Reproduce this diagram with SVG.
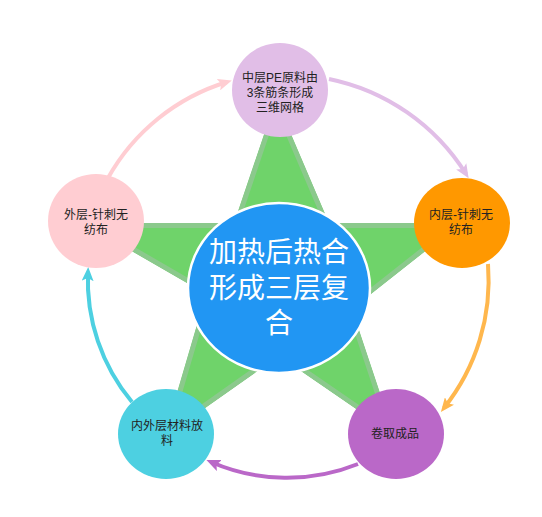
<svg xmlns="http://www.w3.org/2000/svg" width="542" height="517" viewBox="0 0 542 517">
<style>
.lbl{font-family:"Liberation Sans","Noto Sans CJK SC",sans-serif;font-size:12px;fill:#222;text-anchor:middle;dominant-baseline:central}
.big{font-family:"Liberation Sans","Noto Sans CJK SC",sans-serif;font-size:28px;fill:#ffffff;text-anchor:middle;dominant-baseline:central}
.arc{fill:none;stroke-width:4}
</style>
<defs>
<clipPath id="starclip"><polygon points="276,99 329,223 461,223 352,309 394,435 279,356 164,437 206,294 83,223 234,223"/></clipPath>
<marker id="mPink" viewBox="0 0 14 12" refX="9" refY="6" markerWidth="14" markerHeight="12" markerUnits="userSpaceOnUse" orient="auto"><path d="M0,0 L14,6 L0,12 L3,6 z" fill="#ffcdd2"/></marker>
<marker id="mLilac" viewBox="0 0 14 12" refX="9" refY="6" markerWidth="14" markerHeight="12" markerUnits="userSpaceOnUse" orient="auto"><path d="M0,0 L14,6 L0,12 L3,6 z" fill="#e1bee7"/></marker>
<marker id="mOrange" viewBox="0 0 14 12" refX="9" refY="6" markerWidth="14" markerHeight="12" markerUnits="userSpaceOnUse" orient="auto"><path d="M0,0 L14,6 L0,12 L3,6 z" fill="#ffb74d"/></marker>
<marker id="mPurple" viewBox="0 0 14 12" refX="9" refY="6" markerWidth="14" markerHeight="12" markerUnits="userSpaceOnUse" orient="auto"><path d="M0,0 L14,6 L0,12 L3,6 z" fill="#ba68c8"/></marker>
<marker id="mCyan" viewBox="0 0 14 12" refX="9" refY="6" markerWidth="14" markerHeight="12" markerUnits="userSpaceOnUse" orient="auto"><path d="M0,0 L14,6 L0,12 L3,6 z" fill="#4dd0e1"/></marker>
</defs>
<rect width="542" height="517" fill="#ffffff"/>
<g id="star">
<polygon points="276,99 329,223 461,223 352,309 394,435 279,356 164,437 206,294 83,223 234,223" fill="#6fd36a" stroke="#8bc98c" stroke-width="10" clip-path="url(#starclip)"/>
</g>
<g id="connectors">
<path class="arc" stroke="#ffcdd2" d="M108,178 A205,205 0 0 1 227,82" marker-end="url(#mPink)"/>
<path class="arc" stroke="#e1bee7" d="M329,79 A212,212 0 0 1 466,174" marker-end="url(#mLilac)"/>
<path class="arc" stroke="#ffb74d" d="M488,264 A205,205 0 0 1 444,408" marker-end="url(#mOrange)"/>
<path class="arc" stroke="#ba68c8" d="M358,464 A190,190 0 0 1 211,462" marker-end="url(#mPurple)"/>
<path class="arc" stroke="#4dd0e1" d="M132,402 A190,190 0 0 1 88,272" marker-end="url(#mCyan)"/>
</g>
<g id="center">
<ellipse cx="279" cy="288" rx="91" ry="85" fill="#2196f3" stroke="#ffffff" stroke-width="2.5"/>
<text class="big" x="279" y="252"><tspan x="279">加热后热合</tspan><tspan x="279" dy="36">形成三层复</tspan><tspan x="279" dy="35">合</tspan></text>
</g>
<g id="node-top">
<ellipse cx="280" cy="90" rx="48" ry="47" fill="#e1bee7"/>
<text class="lbl" x="280" y="78"><tspan x="280">中层PE原料由</tspan><tspan x="280" dy="15">3条筋条形成</tspan><tspan x="280" dy="15">三维网格</tspan></text>
</g>
<g id="node-right">
<ellipse cx="462" cy="223" rx="48" ry="45" fill="#ff9800"/>
<text class="lbl" x="461" y="215"><tspan x="461">内层-针刺无</tspan><tspan x="461" dy="15">纺布</tspan></text>
</g>
<g id="node-bottom-right">
<ellipse cx="396" cy="434" rx="48" ry="45" fill="#ba68c8"/>
<text class="lbl" x="395" y="434">卷取成品</text>
</g>
<g id="node-bottom-left">
<ellipse cx="166" cy="434" rx="48" ry="45" fill="#4dd0e1"/>
<text class="lbl" x="167" y="426"><tspan x="167">内外层材料放</tspan><tspan x="167" dy="15">料</tspan></text>
</g>
<g id="node-left">
<ellipse cx="96" cy="221" rx="48" ry="47" fill="#ffcdd2"/>
<text class="lbl" x="96" y="215"><tspan x="96">外层-针刺无</tspan><tspan x="96" dy="15">纺布</tspan></text>
</g>
</svg>
